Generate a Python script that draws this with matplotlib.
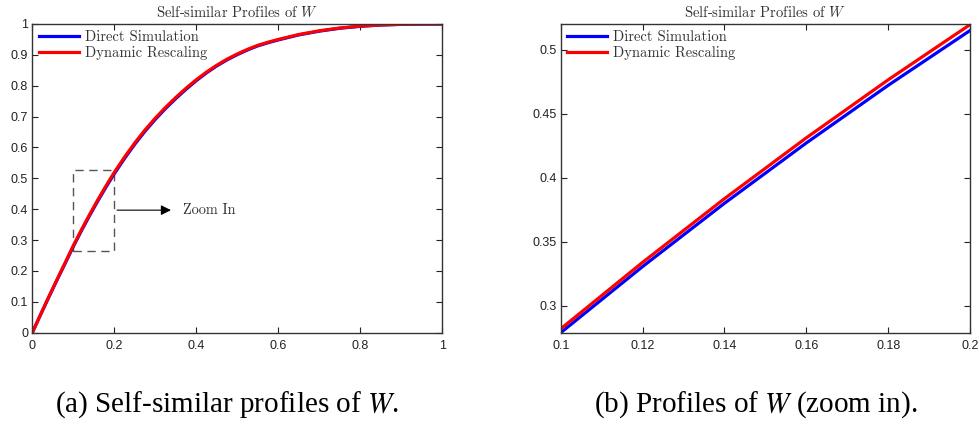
import numpy as np
import matplotlib
matplotlib.use("Agg")
import matplotlib.pyplot as plt
from matplotlib.patches import Rectangle
from matplotlib.ticker import FormatStrFormatter

# profile samples
x = [0, 0.02, 0.04, 0.06, 0.08, 0.10, 0.12, 0.14, 0.16, 0.18, 0.20,
     0.225, 0.25, 0.275, 0.30, 0.325, 0.35, 0.375, 0.40, 0.425, 0.45,
     0.475, 0.50, 0.525, 0.55, 0.575, 0.60, 0.65, 0.70, 0.75, 0.80,
     0.85, 0.90, 0.95, 1.0]
w_direct = [0, 0.0578, 0.1144, 0.1698, 0.2240, 0.279, 0.3306, 0.3800, 0.4271, 0.4721, 0.5149,
            0.5645, 0.6106, 0.6527, 0.691, 0.7262, 0.7584, 0.7885, 0.8165, 0.8418, 0.8643,
            0.8838, 0.9008, 0.9160, 0.9291, 0.9393, 0.9484, 0.9646, 0.9768, 0.9862, 0.9925,
            0.9967, 0.9988, 0.9998, 1.0]
w_rescale = [0, 0.0584, 0.1156, 0.1716, 0.2264, 0.282, 0.3339, 0.3836, 0.4311, 0.4764, 0.5195,
             0.569, 0.615, 0.657, 0.695, 0.730, 0.762, 0.792, 0.8195, 0.8443, 0.8665,
             0.8862, 0.903, 0.918, 0.931, 0.941, 0.950, 0.966, 0.978, 0.987, 0.993,
             0.997, 0.999, 1.0, 1.0]

labels = ["Direct Simulation", "Dynamic Rescaling"]
title = "Self-similar Profiles of $W$"
captions = ["(a) Self-similar profiles of $W$.", "(b) Profiles of $W$ (zoom in)."]

# zoom window shown on the left panel
zoom_x = (0.1, 0.2)
zoom_y = (0.266, 0.527)
arrow_y = 0.397

plt.rcParams['axes.unicode_minus'] = False
tick_font = 'Liberation Sans'
serif_font = 'cmr10'

fig = plt.figure(figsize=(9.8, 4.25), dpi=100)
ax1 = fig.add_axes([32.3 / 980, 92.3 / 425, 410 / 980, 308.7 / 425])
ax2 = fig.add_axes([560.7 / 980, 92.3 / 425, 409.3 / 980, 308.7 / 425])


def style(ax, xlim, ylim, xt, yt):
    ax.plot(x, w_direct, color='#0000ff', lw=2.3, label=labels[0])
    ax.plot(x, w_rescale, color='#ff0000', lw=2.3, label=labels[1])
    ax.set_xlim(*xlim)
    ax.set_ylim(*ylim)
    ax.set_xticks(xt)
    ax.set_yticks(yt)
    ax.xaxis.set_major_formatter(FormatStrFormatter('%g'))
    ax.yaxis.set_major_formatter(FormatStrFormatter('%g'))
    ax.tick_params(direction='in', top=True, right=True, length=4, width=0.8,
                   labelsize=9, colors='#222222')
    ax.tick_params(axis='x', pad=5)
    ax.tick_params(axis='y', pad=3)
    for lab in ax.get_xticklabels() + ax.get_yticklabels():
        lab.set_fontfamily(tick_font)
    for sp in ax.spines.values():
        sp.set_linewidth(1.0)
        sp.set_color('#333333')
    ax.set_title(title, fontsize=10.5, family=serif_font, color='#333333', pad=5,
                 math_fontfamily='cm')
    leg = ax.legend(loc='upper left', frameon=False, handlelength=2.75,
                    borderaxespad=0.25, borderpad=0.2, labelspacing=0.12,
                    handletextpad=0.4, prop={'family': serif_font, 'size': 10.5})
    for t in leg.get_texts():
        t.set_color('#333333')


style(ax1, (0, 1), (0, 1), [0, 0.2, 0.4, 0.6, 0.8, 1],
      [0, 0.1, 0.2, 0.3, 0.4, 0.5, 0.6, 0.7, 0.8, 0.9, 1])
style(ax2, (0.1, 0.2), (0.279, 0.52), [0.1, 0.12, 0.14, 0.16, 0.18, 0.2],
      [0.3, 0.35, 0.4, 0.45, 0.5])

# zoom box and arrow
ax1.add_patch(Rectangle((zoom_x[0], zoom_y[0]), zoom_x[1] - zoom_x[0], zoom_y[1] - zoom_y[0],
                        fill=False, ls=(0, (6, 4)), lw=1.0, edgecolor='#555555', zorder=1))
ax1.annotate('', xy=(0.345, arrow_y), xytext=(zoom_x[1], arrow_y),
             arrowprops=dict(arrowstyle='-|>', color='black', lw=0.8,
                             mutation_scale=15))
ax1.text(0.367, arrow_y, 'Zoom In', family=serif_font, fontsize=10.3, va='center',
         color='#333333')

fig.text(227 / 980, 1 - 405 / 425, captions[0], ha='center', va='center',
         fontsize=21, family='Liberation Serif', math_fontfamily='stix')
fig.text(756 / 980, 1 - 405 / 425, captions[1], ha='center', va='center',
         fontsize=21, family='Liberation Serif', math_fontfamily='stix')

fig.savefig('out.png', dpi=100)
